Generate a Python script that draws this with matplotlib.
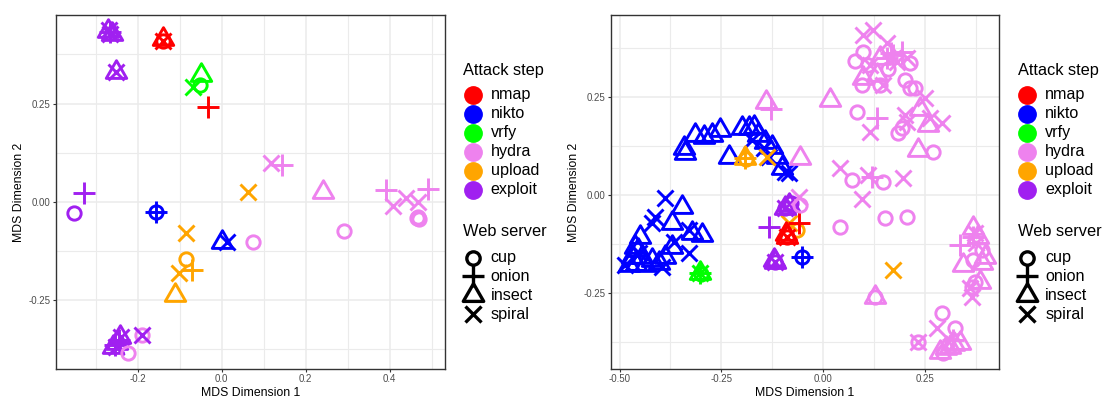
import matplotlib
matplotlib.use("Agg")
import matplotlib.pyplot as plt
from matplotlib.lines import Line2D
from matplotlib.path import Path
from matplotlib.ticker import FixedLocator

plt.rcParams['font.family'] = ['Liberation Sans', 'DejaVu Sans']

# ---------------------------------------------------------------- legend keys
steps = ["nmap", "nikto", "vrfy", "hydra", "upload", "exploit"]
step_colors = ["#FF0000", "#0000FF", "#00FF00", "#EE82EE", "#FFA500", "#A020F0"]
servers = ["cup", "onion", "insect", "spiral"]

# ---------------------------------------------------------------- left panel
left_step = (
    ["exploit"] * 5 + ["nmap"] * 3 + ["exploit"] * 2 + ["vrfy"] * 3 + ["nmap"]
    + ["hydra"] * 2 + ["exploit"] + ["upload"] + ["hydra"] * 11
    + ["exploit"] + ["nikto"] * 2 + ["upload"] + ["nikto"] * 2
    + ["upload"] * 4 + ["hydra", "exploit"] + ["exploit"] * 7 + ["hydra"]
)
left_server = (
    ["insect", "insect", "onion", "spiral", "spiral"]
    + ["insect", "spiral", "cup"]
    + ["insect", "spiral"]
    + ["insect", "cup", "spiral"]
    + ["onion"]
    + ["spiral", "onion"]
    + ["onion"]
    + ["spiral"]
    + ["insect", "onion", "onion", "spiral", "spiral", "spiral", "cup", "cup", "cup", "cup", "cup"]
    + ["cup"]
    + ["cup", "onion"]
    + ["spiral"]
    + ["insect", "spiral"]
    + ["cup", "spiral", "onion", "insect"]
    + ["cup", "spiral"]
    + ["insect", "insect", "insect", "onion", "onion", "spiral", "spiral"]
    + ["cup"]
)
left_x = [
    -0.270, -0.262, -0.266, -0.266, -0.268,
    -0.139, -0.139, -0.139,
    -0.252, -0.252,
    -0.049, -0.052, -0.068,
    -0.032,
    0.117, 0.143,
    -0.327,
    0.063,
    0.242, 0.391, 0.492, 0.409, 0.440, 0.468, 0.464, 0.470, 0.468, 0.292, 0.075,
    -0.352,
    -0.157, -0.157,
    -0.086,
    0.000, 0.012,
    -0.086, -0.102, -0.071, -0.111,
    -0.190, -0.190,
    -0.258, -0.242, -0.250, -0.255, -0.245, -0.252, -0.240,
    -0.222,
]
left_y = [
    0.435, 0.428, 0.432, 0.426, 0.436,
    0.415, 0.410, 0.408,
    0.331, 0.331,
    0.323, 0.297, 0.293,
    0.240,
    0.098, 0.093,
    0.023,
    0.025,
    0.025, 0.030, 0.032, -0.011, 0.009, -0.002, -0.042, -0.045, -0.040, -0.075, -0.102,
    -0.030,
    -0.025, -0.025,
    -0.079,
    -0.102, -0.102,
    -0.147, -0.181, -0.174, -0.238,
    -0.339, -0.339,
    -0.370, -0.345, -0.360, -0.365, -0.352, -0.370, -0.345,
    -0.386,
]

# ---------------------------------------------------------------- right panel
nikto_insect_x = [-0.343, -0.339, -0.314, -0.293, -0.273, -0.253, -0.232, -0.200,
                  -0.183, -0.171, -0.159, -0.142, -0.126, -0.114, -0.101,
                  -0.449, -0.461, -0.469, -0.445, -0.478, -0.437, -0.347, -0.371,
                  -0.322, -0.298, -0.371, -0.388, -0.404, -0.420, -0.460, -0.455]
nikto_insect_y = [0.119, 0.106, 0.153, 0.148, 0.153, 0.165, 0.097, 0.170,
                  0.170, 0.174, 0.153, 0.136, 0.123, 0.097, 0.068,
                  -0.106, -0.131, -0.157, -0.157, -0.178, -0.178, -0.030, -0.072,
                  -0.097, -0.102, -0.131, -0.157, -0.174, -0.165, -0.175, -0.140]
nikto_spiral_x = [-0.175, -0.146, -0.134, -0.093, -0.085, -0.388, -0.412, -0.420,
                  -0.330, -0.486, -0.396, -0.330, -0.367, -0.453]
nikto_spiral_y = [0.140, 0.119, 0.097, 0.059, 0.055, -0.008, -0.055, -0.072,
                  -0.148, -0.178, -0.182, -0.089, -0.119, -0.148]

hydra_insect_x = [-0.141, 0.016, -0.056, 0.098, 0.131, 0.139, 0.237, 0.258, 0.233,
                  0.127, 0.344, 0.368, 0.380, 0.389, 0.385, 0.397, 0.311, 0.286,
                  0.335, 0.300, 0.320]
hydra_insect_y = [0.237, 0.242, 0.093, 0.297, 0.305, 0.348, 0.220, 0.178, 0.114,
                  -0.259, -0.178, -0.085, -0.106, -0.174, -0.220, -0.157, -0.386,
                  -0.398, -0.377, -0.390, -0.380]
hydra_onion_x = [-0.129, 0.156, 0.172, 0.192, 0.131, 0.119, 0.335, 0.368, 0.319, 0.165]
hydra_onion_y = [0.220, 0.348, 0.356, 0.364, 0.195, 0.047, -0.127, -0.106, -0.369, 0.360]
hydra_spiral_x = [0.098, 0.123, 0.156, 0.115, 0.180, 0.205, 0.147, 0.250, 0.200,
                  0.115, 0.291, 0.262, 0.205, 0.041, 0.110, 0.196, 0.096, -0.060,
                  0.372, 0.360, 0.364, 0.376, 0.278, 0.233]
hydra_spiral_y = [0.407, 0.420, 0.386, 0.331, 0.339, 0.348, 0.280, 0.246, 0.203,
                  0.161, 0.182, 0.195, 0.186, 0.068, 0.051, 0.042, -0.010, -0.004,
                  -0.097, -0.237, -0.259, -0.123, -0.339, -0.373]
hydra_cup_x = [0.078, 0.098, 0.094, 0.139, 0.200, 0.213, 0.225, 0.082, 0.184, 0.192,
               0.270, 0.213, 0.110, 0.160, 0.070, 0.147, 0.041, 0.151, 0.205, -0.056,
               0.127, 0.291, 0.323, 0.233, 0.294, 0.389, 0.368, 0.372, 0.364]
hydra_cup_y = [0.341, 0.364, 0.280, 0.280, 0.292, 0.271, 0.271, 0.212, 0.157, 0.170,
               0.110, 0.335, 0.330, 0.320, 0.038, 0.034, -0.081, -0.059, -0.055, -0.025,
               -0.259, -0.301, -0.339, -0.373, -0.403, -0.140, -0.165, -0.220, -0.233]

right_step = (
    ["nikto"] * len(nikto_insect_x) + ["nikto"] * len(nikto_spiral_x) + ["nikto"] * 2
    + ["vrfy"] * 4
    + ["upload"] * 6
    + ["nmap"] * 5
    + ["exploit"] * 10
    + ["upload"]
    + ["hydra"] * (len(hydra_insect_x) + len(hydra_onion_x) + len(hydra_spiral_x) + len(hydra_cup_x))
)
right_server = (
    ["insect"] * len(nikto_insect_x) + ["spiral"] * len(nikto_spiral_x) + ["cup", "onion"]
    + ["insect", "spiral", "cup", "onion"]
    + ["onion", "insect", "cup", "spiral", "spiral", "cup"]
    + ["onion", "insect", "spiral", "cup", "insect"]
    + ["insect", "cup", "spiral", "insect", "cup", "onion", "insect", "insect", "spiral", "cup"]
    + ["spiral"]
    + ["insect"] * len(hydra_insect_x) + ["onion"] * len(hydra_onion_x)
    + ["spiral"] * len(hydra_spiral_x) + ["cup"] * len(hydra_cup_x)
)
right_x = (
    nikto_insect_x + nikto_spiral_x + [-0.052, -0.052]
    + [-0.302, -0.302, -0.300, -0.302]
    + [-0.191, -0.191, -0.189, -0.138, -0.085, -0.065]
    + [-0.060, -0.089, -0.089, -0.089, -0.092]
    + [-0.093, -0.093, -0.093, -0.085, -0.078, -0.134, -0.118, -0.120, -0.118, -0.118]
    + [0.172]
    + hydra_insect_x + hydra_onion_x + hydra_spiral_x + hydra_cup_x
)
right_y = (
    nikto_insect_y + nikto_spiral_y + [-0.157, -0.157]
    + [-0.199, -0.199, -0.201, -0.199]
    + [0.093, 0.093, 0.091, 0.097, -0.072, -0.089]
    + [-0.072, -0.106, -0.106, -0.106, -0.100]
    + [-0.034, -0.034, -0.034, -0.025, -0.020, -0.081, -0.170, -0.165, -0.170, -0.170]
    + [-0.191]
    + hydra_insect_y + hydra_onion_y + hydra_spiral_y + hydra_cup_y
)

# ---------------------------------------------------------------- styling
W, H = 1102, 399
TRI = Path.unit_regular_polygon(3)   # closed equilateral triangle
shape_style = {
    "cup": dict(marker="o", ms=9.6, mfc="none"),
    "onion": dict(marker="+", ms=16.0),
    "insect": dict(marker=TRI, ms=17.0, mfc="none"),
    "spiral": dict(marker="x", ms=11.0),
}
MEW = 2.1
color_of = dict(zip(steps, step_colors))


def draw_points(ax, xs, ys, st, sv):
    for x, y, s, v in zip(xs, ys, st, sv):
        c = color_of[s]
        ax.plot([x], [y], ls="none", color=c, mec=c, mew=MEW, **shape_style[v])


def style_axes(ax, xlim, ylim, xmaj, xmin, xlabels, ymaj, ymin, ylabels):
    ax.set_xlim(*xlim)
    ax.set_ylim(*ylim)
    ax.xaxis.set_major_locator(FixedLocator(xmaj))
    ax.xaxis.set_minor_locator(FixedLocator(xmin))
    ax.yaxis.set_major_locator(FixedLocator(ymaj))
    ax.yaxis.set_minor_locator(FixedLocator(ymin))
    ax.set_xticklabels(xlabels)
    ax.set_yticklabels(ylabels)
    ax.grid(which="major", color="#EBEBEB", lw=1.1)
    ax.grid(which="minor", color="#EBEBEB", lw=0.8)
    ax.set_axisbelow(True)
    for sp in ax.spines.values():
        sp.set_color("#333333")
        sp.set_linewidth(1.0)
    ax.tick_params(which="major", length=2.2, width=0.8, color="#333333",
                   labelsize=7, labelcolor="#4D4D4D", pad=1.6)
    ax.tick_params(which="minor", length=0)
    ax.set_xlabel("MDS Dimension 1", fontsize=8.8, labelpad=2.0)
    ax.set_ylabel("MDS Dimension 2", fontsize=8.8, labelpad=2.5)


def fx(px):
    return px / W


def fy(py):
    return 1 - py / H


def draw_legend(fig, x0):
    fig.text(fx(x0 + 463), fy(71), "Attack step", fontsize=11.8, ha="left", va="center")
    for i, (lab, c) in enumerate(zip(steps, step_colors)):
        yy = 95 + i * 18.9
        fig.add_artist(Line2D([fx(x0 + 472.7)], [fy(yy)], transform=fig.transFigure,
                              marker="o", ms=12.5, color=c, mec=c, ls="none"))
        fig.text(fx(x0 + 490.5), fy(yy), lab, fontsize=11.6, ha="left", va="center")
    fig.text(fx(x0 + 463), fy(232), "Web server", fontsize=11.8, ha="left", va="center")
    for i, lab in enumerate(servers):
        yy = 257.5 + i * 18.9
        fig.add_artist(Line2D([fx(x0 + 472.7)], [fy(yy)], transform=fig.transFigure,
                              ls="none", color="black", mec="black", mew=MEW + 0.3,
                              **shape_style[lab]))
        fig.text(fx(x0 + 490.5), fy(yy), lab, fontsize=11.6, ha="left", va="center")


fig = plt.figure(figsize=(W / 100, H / 100), dpi=100, facecolor="white")

ax1 = fig.add_axes([fx(56), fy(369), (445 - 56) / W, (369 - 15) / H])
draw_points(ax1, left_x, left_y, left_step, left_server)
style_axes(ax1, (-0.3945, 0.5317), (-0.426, 0.4754),
           [-0.2, 0.0, 0.2, 0.4], [-0.3, -0.1, 0.1, 0.3, 0.5],
           ["-0.2", "0.0", "0.2", "0.4"],
           [-0.25, 0.0, 0.25], [-0.375, -0.125, 0.125, 0.375],
           ["-0.25", "0.00", "0.25"])

ax2 = fig.add_axes([fx(610.7), fy(369), (999.3 - 610.7) / W, (369 - 15) / H])
draw_points(ax2, right_x, right_y, right_step, right_server)
style_axes(ax2, (-0.5217, 0.432), (-0.4425, 0.4578),
           [-0.5, -0.25, 0.0, 0.25], [-0.375, -0.125, 0.125, 0.375],
           ["-0.50", "-0.25", "0.00", "0.25"],
           [-0.25, 0.0, 0.25], [-0.375, -0.125, 0.125, 0.375],
           ["-0.25", "0.00", "0.25"])

draw_legend(fig, 0)
draw_legend(fig, 554.7)

fig.savefig("out.png", dpi=100, facecolor="white")
